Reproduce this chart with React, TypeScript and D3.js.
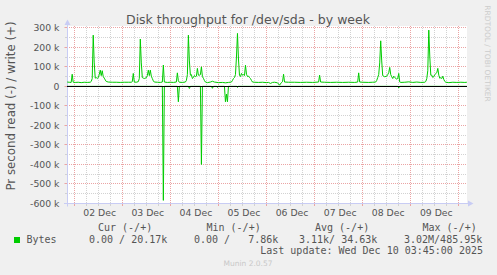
import React from 'react';
import * as d3 from 'd3';

const W = 497;
const H = 275;

// hours since 02 Dec 2025 00:00 and write throughput (kB/s)
const writeHours = [
  -3.5, -2.5, -1.5, -1, -0.5, 0.5, 2, 3.5, 5, 6.5, 8, 8.5, 9, 9.5, 10, 10.5, 11, 11.5, 12, 12.5, 13, 13.5, 14, 14.5, 15, 15.5, 16, 17, 19, 21, 23, 25, 27, 28.5, 29, 29.5, 30, 31, 32, 32.5, 33, 33.5, 34, 34.5, 35, 36, 36.5, 37, 37.5, 38, 38.5, 39, 39.5, 40, 41.5, 43, 44, 44.5, 45, 46.5, 48, 49.5, 51, 51.5, 52, 52.5, 54, 55.5, 56, 56.5, 57, 57.5, 58, 58.5, 59, 59.5, 60, 60.5, 61, 61.5, 62, 62.5, 63, 63.5, 64, 64.5, 65, 65.5, 66.5, 68, 69, 70, 72, 74, 75.5, 77, 78.5, 79, 79.5, 80, 80.5, 81, 81.5, 82, 82.5, 83, 83.5, 84, 84.5, 85, 85.5, 86, 86.5, 87, 87.5, 88, 88.5, 89, 90, 92, 94, 96, 97, 98, 99, 100, 101.5, 102.5, 103.5, 104, 104.5, 105, 107, 110, 113, 116, 119, 122, 122.5, 123, 125, 128, 131, 134, 137, 140, 141.5, 142, 142.5, 144, 147, 149, 150.5, 151, 151.5, 152, 152.5, 153, 153.5, 154, 155, 156, 156.5, 157, 157.5, 158, 158.5, 159, 159.5, 160, 161, 161.5, 162, 162.5, 163, 165, 167, 169, 171, 173, 175, 175.5, 176, 176.5, 177, 177.5, 178, 178.5, 179, 179.5, 180, 181, 181.5, 182, 182.5, 183, 183.5, 184, 184.5, 185, 185.5, 187, 189, 191, 193, 195, 196,
];
const writeKB = [
  22, 21, 20, 62, 21, 20, 21, 19, 21, 20, 21, 25, 40, 262, 120, 42, 45, 40, 44, 60, 83, 55, 80, 50, 42, 33, 25, 22, 21, 21, 20, 21, 21, 21, 24, 66, 22, 21, 24, 40, 242, 120, 45, 42, 40, 44, 55, 83, 55, 83, 52, 40, 28, 22, 21, 20, 22, 109, 22, 20, 21, 20, 22, 69, 28, 21, 20, 22, 30, 60, 262, 130, 57, 60, 40, 45, 55, 50, 52, 92, 57, 57, 60, 100, 50, 41, 30, 22, 19, 22, 26, 22, 19, 20, 18, 20, 22, 30, 40, 45, 60, 150, 271, 140, 57, 50, 66, 57, 60, 55, 108, 62, 50, 52, 45, 40, 30, 22, 21, 20, 21, 19, 20, 15, 20, 21, 18, 6, 20, 24, 62, 22, 21, 21, 20, 21, 20, 22, 57, 22, 21, 20, 21, 20, 21, 20, 22, 69, 22, 21, 20, 21, 22, 30, 45, 60, 120, 233, 130, 55, 49, 52, 60, 70, 97, 60, 49, 40, 52, 45, 37, 40, 66, 22, 20, 21, 23, 20, 22, 20, 21, 25, 40, 80, 288, 150, 57, 57, 45, 50, 60, 70, 92, 57, 41, 45, 40, 52, 35, 25, 21, 19, 21, 20, 21, 20, 21,
];
// read throughput (kB/s), drawn negative
const readHours = [-3.5, 44, 44.5, 45, 51.5, 52, 52.5, 57, 57.5, 58, 63, 63.5, 64, 68.5, 69, 69.5, 71, 71.5, 72, 75, 75.5, 76, 76.5, 77, 81, 81.5, 82, 161.5, 162, 162.5, 196];
const readKB = [0, 0, -584, 0, 0, -79, 0, 0, -11, 0, 0, -400, 0, 0, -10, 0, 0, -5, 0, 0, -79, -40, -79, 0, 0, -5, 0, 0, -8, 0, 0];

const yTickValues = [300, 200, 100, 0, -100, -200, -300, -400, -500, -600];
const yTickLabels = ['300 k', '200 k', '100 k', '0', '-100 k', '-200 k', '-300 k', '-400 k', '-500 k', '-600 k'];
const dayLabels = ['02 Dec', '03 Dec', '04 Dec', '05 Dec', '06 Dec', '07 Dec', '08 Dec', '09 Dec'];
const legendHeaders = ['Cur (-/+)', 'Min (-/+)', 'Avg (-/+)', 'Max (-/+)'];
const legendValues = ['0.00 / 20.17k', '0.00 /   7.86k', '3.11k/ 34.63k', '3.02M/485.95k'];

const BASE = Date.UTC(2025, 11, 2);
const HOUR = 3600e3;
const toDate = (h: number) => new Date(BASE + h * HOUR);

const PL = 67, PR = 467, PT = 26, PB = 203.5;
const SANS = 'DejaVu Sans, sans-serif';
const MONO = 'DejaVu Sans Mono, monospace';
const FONT_C = '#555555';
const AXIS_C = '#c8ccf4';

export default function App() {
  const x = d3.scaleUtc().domain([toDate(-3.59), toDate(196.07)]).range([PL, PR]);
  const y = d3.scaleLinear().domain([-600000, 309000]).range([PB, PT]);

  const gridTimes = d3.utcHour.every(6)!.range(toDate(-3.59), toDate(196.07));
  const minorY = d3.range(-600, 301, 50).filter((v) => v % 100 !== 0);

  const line = d3
    .line<[number, number]>()
    .x((d) => x(toDate(d[0])))
    .y((d) => y(d[1] * 1000));

  const writeData: [number, number][] = writeHours.map((h, i) => [h, writeKB[i]]);
  const readData: [number, number][] = readHours.map((h, i) => [h, readKB[i]]);

  const crisp = (v: number) => Math.round(v - 0.5) + 0.5;
  const legendHX = [98, 206.5, 315, 422.5];
  const legendVX = [89, 194, 299, 404];

  return (
    <div style={{ position: 'fixed', left: 0, top: 0 }}>
      <svg width={W} height={H} style={{ display: 'block' }}>
        <rect x={0} y={0} width={W} height={H} fill="#f0f0f0" />
        <rect x={PL} y={PT} width={PR - PL} height={PB - PT} fill="#ffffff" />

        {/* vertical grid */}
        {gridTimes.map((t, i) => {
          const major = t.getUTCHours() === 0;
          const xx = crisp(x(t));
          return (
            <g key={'vg' + i}>
              <line x1={xx} x2={xx} y1={PT} y2={PB} stroke={major ? '#eba4a4' : '#d2d2d2'} strokeDasharray="1 1" />
              <line x1={xx} x2={xx} y1={PB} y2={PB + 2.5} stroke={major ? '#eba4a4' : '#d2d2d2'} />
            </g>
          );
        })}
        {/* horizontal grid */}
        {minorY.map((v) => (
          <g key={'mh' + v}>
            <line x1={PL} x2={PR} y1={crisp(y(v * 1000))} y2={crisp(y(v * 1000))} stroke="#d2d2d2" strokeDasharray="1 1" />
            <line x1={PL - 2} x2={PL} y1={crisp(y(v * 1000))} y2={crisp(y(v * 1000))} stroke="#d2d2d2" />
          </g>
        ))}
        {yTickValues.map((v) => (
          <g key={'Mh' + v}>
            <line x1={PL} x2={PR} y1={crisp(y(v * 1000))} y2={crisp(y(v * 1000))} stroke="#eba4a4" strokeDasharray="1 1" />
            <line x1={PL - 2.5} x2={PL} y1={crisp(y(v * 1000))} y2={crisp(y(v * 1000))} stroke="#eba4a4" />
          </g>
        ))}

        {/* axes */}
        <line x1={PL - 3} x2={468} y1={crisp(PB)} y2={crisp(PB)} stroke={AXIS_C} />
        <path d={`M468,${crisp(PB) - 3} L473.5,${crisp(PB)} L468,${crisp(PB) + 3} Z`} fill={AXIS_C} />
        <line x1={crisp(PL)} x2={crisp(PL)} y1={PB + 3} y2={25} stroke={AXIS_C} />
        <path d={`M${crisp(PL) - 3},25 L${crisp(PL)},19.5 L${crisp(PL) + 3},25 Z`} fill={AXIS_C} />

        {/* data */}
        <path d={line(readData) || ''} fill="none" stroke="#00cc00" strokeWidth={1} />
        <path d={line(writeData) || ''} fill="none" stroke="#00cc00" strokeWidth={1} />

        {/* zero line */}
        <line x1={PL} x2={PR} y1={crisp(y(0))} y2={crisp(y(0))} stroke="#000000" />

        {/* y tick labels */}
        {yTickValues.map((v, i) => (
          <text key={'yl' + v} x={59.5} y={y(v * 1000) + 3.4} textAnchor="end" fontFamily={SANS} fontSize={9.3} fill={FONT_C}>
            {yTickLabels[i]}
          </text>
        ))}
        {/* x labels */}
        {dayLabels.map((lab, i) => (
          <text key={lab} x={x(toDate(12 + 24 * i)) + 1.5} y={216} textAnchor="middle" fontFamily={SANS} fontSize={9.3} fill={FONT_C}>
            {lab}
          </text>
        ))}

        {/* title */}
        <text x={248} y={24} textAnchor="middle" fontFamily={SANS} fontSize={12.5} fill={FONT_C}>
          Disk throughput for /dev/sda - by week
        </text>

        {/* vertical axis label */}
        <text transform="translate(15,106) rotate(-90)" textAnchor="middle" fontFamily={SANS} fontSize={11.8} fill={FONT_C}>
          Pr second read (-) / write (+)
        </text>

        {/* rrdtool watermark */}
        <text transform="translate(485,53.5) rotate(90)" textAnchor="middle" fontFamily={SANS} fontSize={7.5} fill="#cccccc">
          RRDTOOL / TOBI OETIKER
        </text>

        {/* legend */}
        {legendHeaders.map((hd, i) => (
          <text key={hd} x={legendHX[i]} y={230.7} fontFamily={MONO} fontSize={10} fill={FONT_C} style={{ whiteSpace: 'pre' }}>
            {hd}
          </text>
        ))}
        <rect x={14} y={237} width={6} height={6} fill="#00cc00" />
        <text x={26.5} y={242.7} fontFamily={MONO} fontSize={10} fill={FONT_C}>
          Bytes
        </text>
        {legendValues.map((v, i) => (
          <text key={'lv' + i} x={legendVX[i]} y={242.7} fontFamily={MONO} fontSize={10} fill={FONT_C} style={{ whiteSpace: 'pre' }}>
            {v}
          </text>
        ))}
        <text x={483} y={254.3} textAnchor="end" fontFamily={MONO} fontSize={10} fill={FONT_C} style={{ whiteSpace: 'pre' }}>
          Last update: Wed Dec 10 03:45:00 2025
        </text>
        <text x={248} y={266} textAnchor="middle" fontFamily={SANS} fontSize={7.5} fill="#c8c8c8">
          Munin 2.0.57
        </text>
      </svg>
    </div>
  );
}
